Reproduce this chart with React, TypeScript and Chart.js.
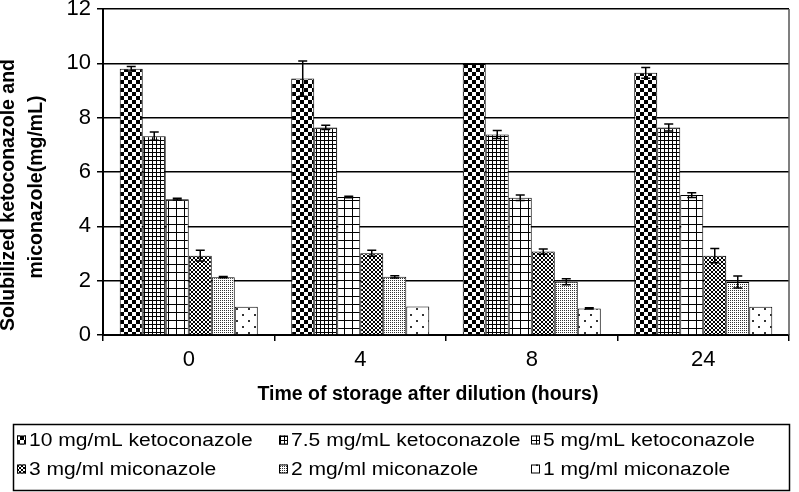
import React, { useEffect, useRef } from 'react';
import { Chart, registerables } from 'chart.js';

Chart.register(...registerables);

const categories = ['0', '4', '8', '24'];
const seriesLabels = [
  '10 mg/mL ketoconazole',
  '7.5 mg/mL ketoconazole',
  '5 mg/mL ketoconazole',
  '3 mg/ml miconazole',
  '2 mg/ml miconazole',
  '1 mg/ml miconazole',
];
const keto10 = [9.8, 9.44, 9.98, 9.65];
const keto75 = [7.32, 7.64, 7.38, 7.64];
const keto5 = [5.0, 5.08, 5.05, 5.15];
const mico3 = [2.92, 3.01, 3.07, 2.92];
const mico2 = [2.13, 2.14, 1.96, 1.95];
const mico1 = [1.04, 1.05, 0.98, 1.04];

const keto10Err = [0.08, 0.65, 0, 0.2];
const keto75Err = [0.15, 0.08, 0.15, 0.13];
const keto5Err = [0.03, 0.03, 0.1, 0.09];
const mico3Err = [0.2, 0.11, 0.1, 0.26];
const mico2Err = [0.02, 0.04, 0.11, 0.22];
const mico1Err = [0, 0, 0.02, 0];

const yTicks = [0, 2, 4, 6, 8, 10, 12];
const xTitle = 'Time of storage after dilution (hours)';
const yTitleLines = ['Solubilized ketoconazole and', 'miconazole(mg/mL)'];

const seriesValues = [keto10, keto75, keto5, mico3, mico2, mico1];
const seriesErrors = [keto10Err, keto75Err, keto5Err, mico3Err, mico2Err, mico1Err];

const FONT = '"Liberation Sans", Arial, Helvetica, sans-serif';

function makePattern(kind: number): CanvasPattern | string {
  const c = document.createElement('canvas');
  let s = 8;
  if (kind === 1) s = 4;
  if (kind === 2) s = 8;
  if (kind === 3) s = 4;
  if (kind === 4) s = 2;
  if (kind === 5) s = 12;
  c.width = s;
  c.height = s;
  const g = c.getContext('2d')!;
  g.fillStyle = '#fff';
  g.fillRect(0, 0, s, s);
  g.fillStyle = '#000';
  if (kind === 0) {
    g.fillRect(0, 0, 4, 4);
    g.fillRect(4, 4, 4, 4);
  } else if (kind === 1) {
    g.fillRect(0, 0, 4, 1);
    g.fillRect(0, 0, 1, 4);
  } else if (kind === 2) {
    g.fillRect(0, 0, 8, 1);
    g.fillRect(0, 0, 1, 8);
  } else if (kind === 3) {
    for (let i = 0; i < 4; i++) {
      g.fillRect(i, i, 1, 1);
      g.fillRect(3 - i, i, 1, 1);
    }
  } else if (kind === 4) {
    g.fillStyle = '#333';
    g.fillRect(0, 0, 1, 1);
  } else if (kind === 5) {
    g.fillStyle = '#333';
    g.fillRect(2, 2, 2, 2);
    g.fillRect(8, 8, 2, 2);
  }
  const ctx = document.createElement('canvas').getContext('2d')!;
  return ctx.createPattern(c, 'repeat') || '#888';
}

const errorBarPlugin = {
  id: 'errorBars',
  afterDatasetsDraw(chart: any) {
    const ctx = chart.ctx;
    const ys = chart.scales.y;
    ctx.save();
    ctx.strokeStyle = '#000';
    ctx.lineWidth = 1.5;
    chart.data.datasets.forEach((ds: any, di: number) => {
      const meta = chart.getDatasetMeta(di);
      const errs = seriesErrors[di];
      meta.data.forEach((bar: any, i: number) => {
        const e = errs[i];
        if (!e || e < 0.01) return;
        const v = ds.data[i];
        const x = bar.x;
        const yt = ys.getPixelForValue(v + e);
        const yb = ys.getPixelForValue(v - e);
        ctx.beginPath();
        ctx.moveTo(x, yt);
        ctx.lineTo(x, yb);
        ctx.moveTo(x - 4.5, yt);
        ctx.lineTo(x + 4.5, yt);
        ctx.moveTo(x - 4.5, yb);
        ctx.lineTo(x + 4.5, yb);
        ctx.stroke();
      });
    });
    ctx.restore();
  },
};

function makeDecorPlugin(patterns: (CanvasPattern | string)[]) {
  return {
    id: 'decor',
    afterDraw(chart: any) {
      const { ctx, chartArea } = chart;
      ctx.save();
      // plot area right border
      ctx.strokeStyle = '#555';
      ctx.lineWidth = 1.5;
      ctx.beginPath();
      ctx.moveTo(chartArea.right, chartArea.top);
      ctx.lineTo(chartArea.right, chartArea.bottom);
      ctx.stroke();

      // x title
      ctx.fillStyle = '#000';
      ctx.font = `bold 19.5px ${FONT}`;
      ctx.textAlign = 'center';
      ctx.textBaseline = 'middle';
      ctx.fillText(xTitle, 428, 395);

      // y title
      const yCenters = [195, 187];
      const xCenters = [9, 37];
      yTitleLines.forEach((line, i) => {
        ctx.save();
        ctx.translate(xCenters[i], yCenters[i]);
        ctx.rotate(-Math.PI / 2);
        ctx.fillText(line, 0, 0);
        ctx.restore();
      });

      // legend box
      ctx.strokeStyle = '#000';
      ctx.lineWidth = 1.5;
      ctx.strokeRect(13.5, 424.5, 776, 66);
      const colX = [17, 279, 531];
      const rowY = [440, 469];
      ctx.font = `18px ${FONT}`;
      ctx.textAlign = 'left';
      seriesLabels.forEach((lab, i) => {
        const cx = colX[i % 3];
        const cy = rowY[Math.floor(i / 3)];
        ctx.fillStyle = patterns[i] as any;
        ctx.fillRect(cx, cy - 4.5, 9, 9);
        ctx.lineWidth = 1;
        ctx.strokeStyle = '#000';
        ctx.strokeRect(cx + 0.5, cy - 4, 8, 8);
        ctx.save();
        ctx.translate(cx + 12, cy);
        ctx.scale(1.17, 1);
        ctx.fillStyle = '#000';
        ctx.fillText(lab, 0, 1);
        ctx.restore();
      });
      ctx.restore();
    },
  };
}

export default function App() {
  const ref = useRef<HTMLCanvasElement>(null);
  useEffect(() => {
    const canvas = ref.current!;
    const patterns = [0, 1, 2, 3, 4, 5].map(makePattern);
    Chart.defaults.font.family = FONT;
    const tickFont = { size: 22, family: FONT, lineHeight: 1.2 };
    const chart = new Chart(canvas, {
      type: 'bar',
      data: {
        labels: categories,
        datasets: seriesValues.map((d, i) => ({
          label: seriesLabels[i],
          data: d,
          backgroundColor: patterns[i] as any,
          borderColor: '#000',
          borderWidth: 1,
          categoryPercentage: 0.805,
          barPercentage: 1,
        })),
      },
      options: {
        responsive: false,
        animation: false,
        layout: { padding: { left: 0, right: 10, top: 9, bottom: 82 } },
        plugins: { legend: { display: false }, tooltip: { enabled: false } },
        scales: {
          x: {
            grid: {
              display: true,
              drawOnChartArea: false,
              drawTicks: true,
              tickLength: 6,
              color: '#000',
              lineWidth: 1.5,
              offset: true,
            },
            border: { display: true, color: '#000', width: 2 },
            ticks: { font: tickFont, color: '#000', padding: 6 },
            afterFit: (s: any) => {
              s.height = 75;
            },
          },
          y: {
            min: 0,
            max: 12,
            afterBuildTicks: (s: any) => {
              s.ticks = yTicks.map((v) => ({ value: v }));
            },
            ticks: { font: tickFont, color: '#000', padding: 6 },
            grid: { color: '#000', lineWidth: 1.5, tickLength: 6 },
            border: { color: '#000', width: 2 },
            afterFit: (s: any) => {
              s.width = 103;
              s.paddingTop = 0;
              s.paddingBottom = 0;
            },
          },
        },
      },
      plugins: [errorBarPlugin, makeDecorPlugin(patterns)],
    });
    return () => chart.destroy();
  }, []);
  return (
    <div style={{ position: 'absolute', left: 0, top: 0, width: 799, height: 492, background: '#fff' }}>
      <canvas ref={ref} width={799} height={492} style={{ display: 'block' }} />
    </div>
  );
}
